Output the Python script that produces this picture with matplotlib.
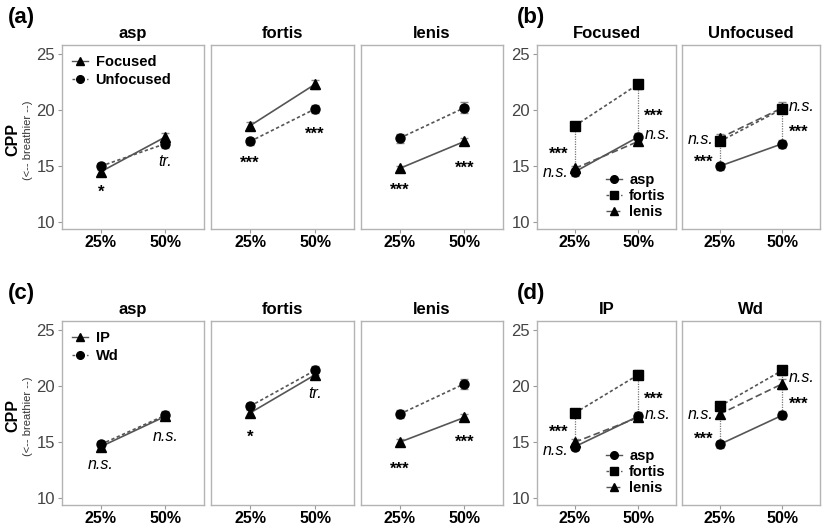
import numpy as np
import matplotlib
matplotlib.use("Agg")
import matplotlib.pyplot as plt
from matplotlib.lines import Line2D

plt.rcParams['font.family'] = ['Liberation Sans', 'DejaVu Sans']

# ---- data ----
positions = ['25%', '50%']
consonants = ['asp', 'fortis', 'lenis']

# (a)/(b): focus
focus_levels = ['Focused', 'Unfocused']
focused_mean = {'asp': [14.5, 17.6], 'fortis': [18.6, 22.3], 'lenis': [14.8, 17.2]}
focused_err = {'asp': [0.35, 0.4], 'fortis': [0.3, 0.4], 'lenis': [0.25, 0.35]}
unfocused_mean = {'asp': [15.0, 17.0], 'fortis': [17.2, 20.1], 'lenis': [17.5, 20.2]}
unfocused_err = {'asp': [0.3, 0.35], 'fortis': [0.3, 0.35], 'lenis': [0.4, 0.5]}

# (c)/(d): prosodic boundary
boundary_levels = ['IP', 'Wd']
ip_mean = {'asp': [14.6, 17.3], 'fortis': [17.6, 21.0], 'lenis': [15.0, 17.2]}
ip_err = {'asp': [0.3, 0.35], 'fortis': [0.35, 0.4], 'lenis': [0.25, 0.35]}
wd_mean = {'asp': [14.8, 17.4], 'fortis': [18.2, 21.4], 'lenis': [17.5, 20.2]}
wd_err = {'asp': [0.3, 0.35], 'fortis': [0.3, 0.4], 'lenis': [0.35, 0.45]}

# significance labels: (text, x index, y value[, side])
sig_a = {'asp': [('*', 0, 13.2), ('tr.', 1, 15.4)],
         'fortis': [('***', 0, 15.8), ('***', 1, 18.4)],
         'lenis': [('***', 0, 13.4), ('***', 1, 15.4)]}
sig_b = {'Focused': [('***', 0, 16.6, -1), ('n.s.', 0, 14.4, -1),
                     ('***', 1, 20.0, 1), ('n.s.', 1, 17.8, 1)],
         'Unfocused': [('n.s.', 0, 17.4, -1), ('***', 0, 15.9, -1),
                       ('n.s.', 1, 20.3, 1), ('***', 1, 18.6, 1)]}
sig_c = {'asp': [('n.s.', 0, 13.0), ('n.s.', 1, 15.5)],
         'fortis': [('*', 0, 16.0), ('tr.', 1, 19.3)],
         'lenis': [('***', 0, 13.1), ('***', 1, 15.5)]}
sig_d = {'IP': [('***', 0, 16.4, -1), ('n.s.', 0, 14.3, -1),
                ('***', 1, 19.4, 1), ('n.s.', 1, 17.5, 1)],
         'Wd': [('n.s.', 0, 17.5, -1), ('***', 0, 15.8, -1),
                ('n.s.', 1, 20.8, 1), ('***', 1, 18.9, 1)]}

# ---- style ----
LINE_COL = '#555555'
EDGE_COL = '#b3b3b3'
cons_style = {'asp': ('o', '-'), 'fortis': ('s', (0, (2, 1.5))), 'lenis': ('^', (0, (4, 2)))}
lev_style = [('^', '-'), ('o', (0, (2, 1.5)))]

W, H = 827, 527
fig = plt.figure(figsize=(W / 100, H / 100), dpi=100)


def make_ax(x0, x1, y0, y1):
    ax = fig.add_axes([x0 / W, 1 - y1 / H, (x1 - x0) / W, (y1 - y0) / H])
    ax.set_xlim(0.4, 2.6)
    ax.set_ylim(9.4, 25.8)
    ax.set_xticks([1, 2])
    ax.set_xticklabels(positions, fontsize=11.5, fontweight='bold')
    ax.set_yticks([10, 15, 20, 25])
    for s in ax.spines.values():
        s.set_color(EDGE_COL)
        s.set_linewidth(1.0)
    ax.tick_params(axis='both', colors='#999999', length=3, width=0.8,
                   labelcolor='black', labelsize=11.5)
    ax.tick_params(axis='x', pad=1.5)
    ax.tick_params(axis='y', labelcolor='#444444', labelsize=12, pad=2)
    return ax


def draw_series(ax, y, e, marker, ls):
    x = np.array([1, 2])
    ax.errorbar(x, y, yerr=e, fmt='none', ecolor='#888888', elinewidth=1,
                capsize=3, capthick=1, zorder=2)
    ax.plot(x, y, color=LINE_COL, linestyle=ls, linewidth=1.2, zorder=3)
    ax.plot(x, y, linestyle='none', marker=marker, color='black',
            markersize=6.5, zorder=4)


def sig_text(ax, txt, xi, yv, side=0):
    x = 1 + xi
    ha = 'center'
    if side < 0:
        x -= 0.1
        ha = 'right'
    elif side > 0:
        x += 0.1
        ha = 'left'
    if '*' in txt:
        ax.text(x, yv - 0.55, txt, ha=ha, va='center', fontsize=12,
                fontweight='bold')
    else:
        ax.text(x, yv, txt, ha=ha, va='center', fontsize=11.5, style='italic')


def ylabel(ylab_y):
    fig.text(13 / W, 1 - ylab_y / H, 'CPP', rotation=90, ha='center', va='center',
             fontsize=11.5, fontweight='bold')
    fig.text(28 / W, 1 - ylab_y / H, '(<-- breathier --)', rotation=90, ha='center',
             va='center', fontsize=8, color='#333333')


def legend(ax, handles, labels, loc, spacing):
    ax.legend(handles, labels, loc=loc, frameon=False,
              prop={'weight': 'bold', 'size': 10.5},
              handlelength=1.1, handletextpad=0.5,
              labelspacing=spacing, borderaxespad=0.3)


def handle(marker, ls):
    return Line2D([], [], color=LINE_COL, linestyle=ls, linewidth=1.0,
                  marker=marker, markerfacecolor='black',
                  markeredgecolor='black', markersize=5.5)


cols_left = [(62, 204), (211, 354), (361, 503)]
cols_right = [(537, 676), (682, 820)]
rows = [(45, 229), (321, 505)]

groups = [
    (rows[0], (focused_mean, unfocused_mean), (focused_err, unfocused_err),
     focus_levels, sig_a, sig_b, '(a)', '(b)'),
    (rows[1], (ip_mean, wd_mean), (ip_err, wd_err),
     boundary_levels, sig_c, sig_d, '(c)', '(d)'),
]

for (y0, y1), means, errs, levels, sig_left, sig_right, tl, tr_ in groups:
    # left block: facet by consonant, series by level
    for i, c in enumerate(consonants):
        x0, x1 = cols_left[i]
        ax = make_ax(x0, x1, y0, y1)
        for k in range(2):
            mk, ls = lev_style[k]
            draw_series(ax, means[k][c], errs[k][c], mk, ls)
        for t in sig_left[c]:
            sig_text(ax, *t)
        ax.set_title(c, fontsize=12, fontweight='bold', pad=5)
        if i > 0:
            ax.tick_params(axis='y', left=False, labelleft=False)
        else:
            legend(ax, [handle(*lev_style[k]) for k in range(2)], levels,
                   'upper left', 0.25)
            ylabel((y0 + y1) / 2 + 3)
    # right block: facet by level, series by consonant
    for j, lev in enumerate(levels):
        x0, x1 = cols_right[j]
        ax = make_ax(x0, x1, y0, y1)
        for xi in range(2):
            vals = [means[j][c][xi] for c in consonants]
            ax.vlines(1 + xi, min(vals), max(vals), colors='#777777',
                      linestyles=(0, (1, 1)), linewidth=0.9, zorder=1)
        for c in consonants:
            mk, ls = cons_style[c]
            draw_series(ax, means[j][c], errs[j][c], mk, ls)
        for t in sig_right[lev]:
            sig_text(ax, *t)
        ax.set_title(lev, fontsize=12, fontweight='bold', pad=5)
        if j > 0:
            ax.tick_params(axis='y', left=False, labelleft=False)
        else:
            legend(ax, [handle(*cons_style[c]) for c in consonants], consonants,
                   'lower right', 0.12)
    fig.text(8 / W, 1 - (y0 - 28) / H, tl, fontsize=16, fontweight='bold',
             ha='left', va='center')
    fig.text(517 / W, 1 - (y0 - 28) / H, tr_, fontsize=16, fontweight='bold',
             ha='left', va='center')

fig.savefig('out.png', dpi=100)
